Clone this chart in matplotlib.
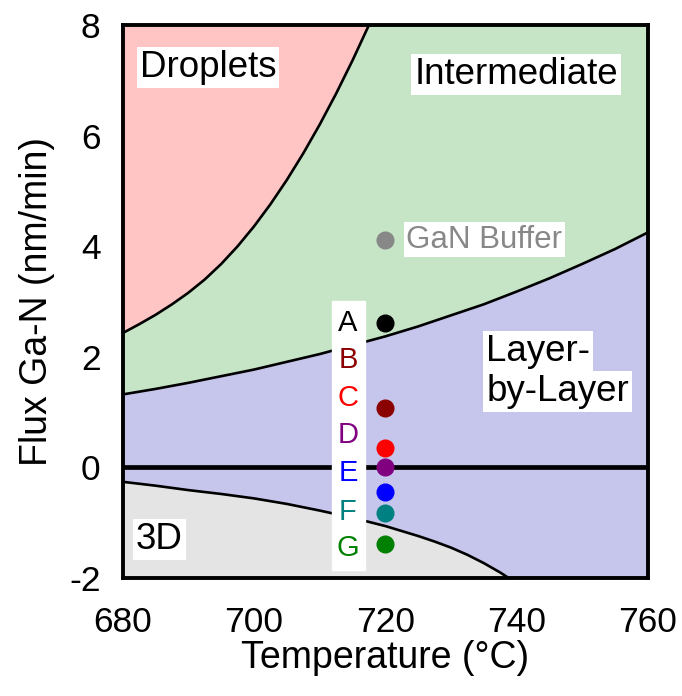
import numpy as np
import matplotlib
matplotlib.use('agg')
from matplotlib import pyplot as plt
from matplotlib.patches import Rectangle

plt.rcParams['font.family'] = ['Liberation Sans', 'DejaVu Sans']
plt.rcParams['axes.unicode_minus'] = False

# phase boundaries (temperature in C, flux in nm/min)
drop_T = [680, 682.5, 685, 687.5, 690, 692.5, 695, 697.5, 700, 702.5, 705,
          707.5, 710, 712.5, 715, 717.5]
drop_F = [2.43, 2.59, 2.76, 2.95, 3.16, 3.40, 3.68, 4.00, 4.36, 4.76, 5.20,
          5.68, 6.20, 6.76, 7.36, 8.0]

lbl_T = [680, 685, 690, 695, 700, 705, 710, 715, 720, 725, 730, 735, 740,
         745, 750, 755, 760]
lbl_F = [1.32, 1.42, 1.53, 1.65, 1.77, 1.91, 2.05, 2.21, 2.37, 2.55, 2.75,
         2.95, 3.18, 3.42, 3.68, 3.95, 4.25]

td_T = [680, 685, 690, 695, 700, 705, 710, 715, 720, 722.5, 725, 727.5, 730,
        732.5, 735, 737.5, 738.8]
td_F = [-0.26, -0.33, -0.41, -0.48, -0.56, -0.66, -0.78, -0.91, -1.06, -1.15,
        -1.24, -1.34, -1.45, -1.58, -1.73, -1.90, -2.0]

# samples, all grown at 720 C
sample_names = ['A', 'B', 'C', 'D', 'E', 'F', 'G']
sample_flux = [2.62, 1.07, 0.36, 0.01, -0.45, -0.83, -1.39]
sample_colors = ['black', '#8b0000', 'red', 'purple', 'blue', 'teal', 'green']
label_y = [2.62, 1.94, 1.26, 0.59, -0.10, -0.81, -1.46]
buffer_flux = 4.12
sample_T = 720

fig = plt.figure(figsize=(6.82, 6.96), dpi=100)
ax = fig.add_axes([0.180, 0.1695, 0.770, 0.7945])

ax.set_facecolor('#c6c6ec')
ax.fill_between(lbl_T, lbl_F, 8, color='#c6e4c6', lw=0)
ax.fill_between(drop_T, drop_F, 8, color='#ffc5c5', lw=0)
ax.fill_between(td_T, -2, td_F, color='#e4e4e4', lw=0)
ax.plot(drop_T, drop_F, color='black', lw=1.9)
ax.plot(lbl_T, lbl_F, color='black', lw=1.9)
ax.plot(td_T, td_F, color='black', lw=1.9)
ax.axhline(0, color='black', lw=3.4, zorder=3)

ax.plot(sample_T, buffer_flux, 'o', color='#888888', ms=12, zorder=5)
for f, c in zip(sample_flux, sample_colors):
    ax.plot(sample_T, f, 'o', color=c, ms=12, zorder=5)

# letter column with white background
ax.add_patch(Rectangle((711.9, -1.86), 5.0, 4.87, color='white', zorder=4))
for name, y, c in zip(sample_names, label_y, sample_colors):
    ax.text(714.3, y, name, color=c, fontsize=21, ha='center', va='center', zorder=6)

box = dict(facecolor='white', edgecolor='none', pad=2)
ax.text(723.2, buffer_flux, 'GaN Buffer', color='#888888', fontsize=22.5,
        ha='left', va='center', bbox=box, zorder=6)
ax.text(693.0, 7.24, 'Droplets', fontsize=26.5, ha='center', va='center', bbox=box, zorder=6)
ax.text(739.9, 7.10, 'Intermediate', fontsize=26.5, ha='center', va='center', bbox=box, zorder=6)
ax.text(735.4, 2.10, 'Layer-', fontsize=26.5, ha='left', va='center', bbox=box, zorder=6)
ax.text(735.4, 1.37, 'by-Layer', fontsize=26.5, ha='left', va='center', bbox=box, zorder=6)
ax.text(685.6, -1.31, '3D', fontsize=26.5, ha='center', va='center', bbox=box, zorder=6)

ax.set_xlim(680, 760)
ax.set_ylim(-2, 8)
ax.set_xticks([680, 700, 720, 740, 760])
ax.set_yticks([-2, 0, 2, 4, 6, 8])
ax.tick_params(length=0, labelsize=25.5)
ax.tick_params(axis='x', pad=20)
ax.tick_params(axis='y', pad=16)
for s in ax.spines.values():
    s.set_linewidth(2.8)
ax.set_xlabel('Temperature (°C)', fontsize=27, labelpad=1)
ax.set_ylabel('Flux Ga-N (nm/min)', fontsize=27, labelpad=10)

plt.savefig('out.png', dpi=100)
